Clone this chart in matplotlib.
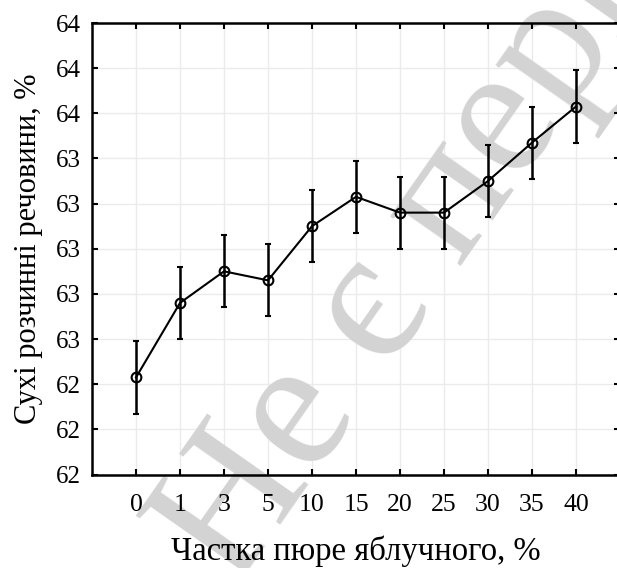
import matplotlib.pyplot as plt
import numpy as np

# частка пюре яблучного, % (categorical axis)
share = ['0', '1', '3', '5', '10', '15', '20', '25', '30', '35', '40']
# сухі розчинні речовини, % (means)
solids = [62.43, 62.76, 62.90, 62.86, 63.10, 63.23, 63.16, 63.16, 63.30, 63.47, 63.63]
# half-length of error bars
err = [0.16, 0.16, 0.16, 0.16, 0.16, 0.16, 0.16, 0.16, 0.16, 0.16, 0.16]

yticks = [62.0, 62.2, 62.4, 62.6, 62.8, 63.0, 63.2, 63.4, 63.6, 63.8, 64.0]

plt.rcParams['font.family'] = ['Liberation Serif', 'DejaVu Serif']

W, H = 617, 568
fig = plt.figure(figsize=(W / 100, H / 100), dpi=100)
ax = fig.add_axes([92 / W, (H - 474.5) / H, (620 - 92) / W, (474.5 - 23) / H])

x = np.arange(len(share))

# light grid, drawn by hand so the watermark can sit on top of it
for yv in yticks:
    ax.axhline(yv, color='#ebebeb', lw=1.0, zorder=0.5)
for xv in x:
    ax.axvline(xv, color='#ebebeb', lw=1.0, zorder=0.5)

# watermark
ax.text(234 / W, -22 / H, 'Не є першоджерелом', transform=fig.transFigure,
        fontsize=135, color='#d3d3d3', rotation=55, rotation_mode='anchor',
        ha='left', va='baseline', clip_on=False, zorder=1)

ax.errorbar(x, solids, yerr=err, color='black', lw=1.5, elinewidth=1.8,
            capsize=2.5, capthick=1.5, marker='o', markersize=7,
            markerfacecolor='none', markeredgewidth=1.5, zorder=3)

ax.set_xlim(-1, 11)
ax.set_ylim(62, 64)
ax.set_xticks(x)
ax.set_xticklabels(share)
ax.set_yticks(yticks)
ax.yaxis.set_major_formatter(plt.FormatStrFormatter('%.0f'))

ax.tick_params(direction='in', length=4, width=1.5, labelsize=18,
               top=True, right=True)
ax.tick_params(axis='x', pad=14, labelsize=18.5)
ax.tick_params(axis='y', pad=8)
for s in ax.spines.values():
    s.set_linewidth(1.8)

ax.set_xlabel('Частка пюре яблучного, %', fontsize=23.5, labelpad=14)
ax.set_ylabel('Сухі розчинні речовини, %', fontsize=22, labelpad=9)

fig.savefig('out.png', dpi=100)
